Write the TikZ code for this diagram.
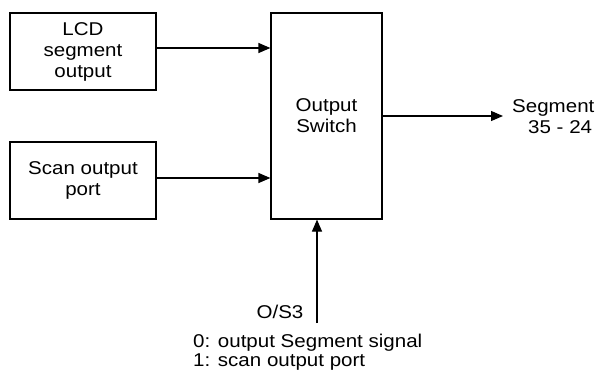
\documentclass[tikz,border=0pt]{standalone}
\usepackage{fontspec}
\setmainfont{Liberation Sans}[FakeStretch=1.11]
\usetikzlibrary{arrows.meta}
\begin{document}
\begin{tikzpicture}[x=1pt,y=-1pt,
  every node/.style={font=\fontsize{18.5}{21}\selectfont},
  blk/.style={draw,line width=1.2pt,inner sep=0pt,align=center},
  lbl/.style={inner sep=0pt},
  arr/.style={line width=1.2pt,-{Triangle[length=12pt,width=10pt]}}]
\useasboundingbox (0,0) rectangle (597,370);
\node[blk,minimum width=146pt,minimum height=77pt] (lcd) at (83,51.5) {LCD\\segment\\output};
\node[blk,minimum width=146pt,minimum height=77pt] (scan) at (83,180.5) {Scan output\\port};
\node[blk,minimum width=111pt,minimum height=206pt] (sw) at (326.5,116) {Output\\Switch};
\coordinate (out) at (503,116);
\node[lbl,anchor=base west] (seg) at (512,112) {Segment};
\node[lbl,anchor=base west] (num) at (528,133) {35 - 24};
\coordinate (os) at (317,323);
\node[lbl,anchor=base] (oss) at (280,318) {O/S3};
\node[lbl,anchor=base west] (l0) at (193,347) {0: output Segment signal};
\node[lbl,anchor=base west] (l1) at (193,366) {1: scan output port};
\draw[arr] ([yshift=3.5pt]lcd.east) -- ([yshift=3.5pt]lcd.east -| sw.west);
\draw[arr] ([yshift=2.5pt]scan.east) -- ([yshift=2.5pt]scan.east -| sw.west);
\draw[arr] (sw.east) -- (out);
\draw[arr] (os) -- (os |- sw.south);
\end{tikzpicture}
\end{document}
